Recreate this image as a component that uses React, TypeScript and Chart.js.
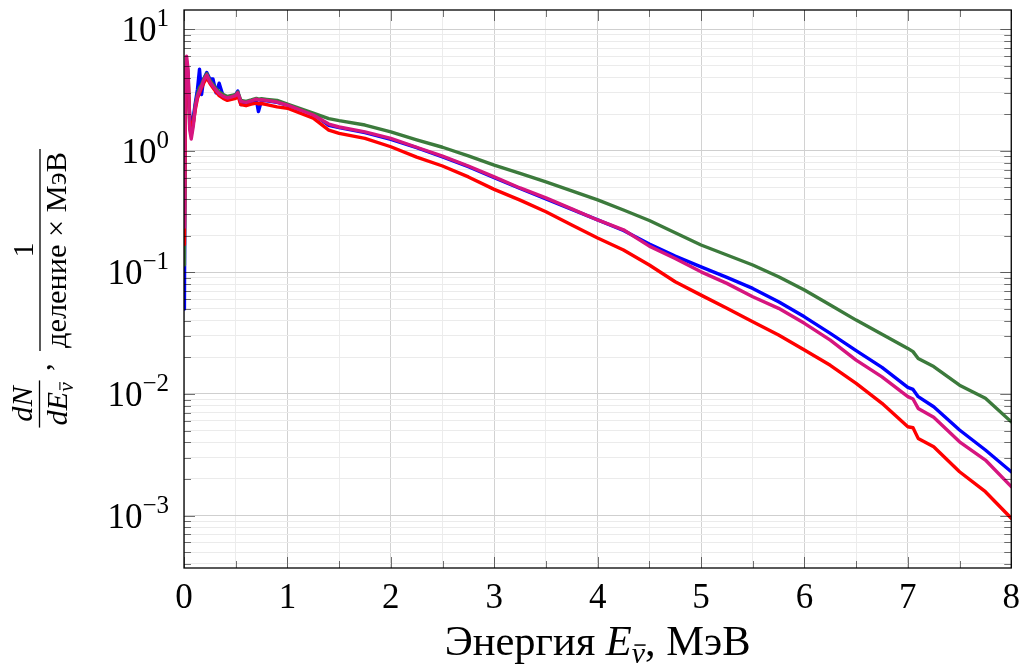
import React, { useEffect, useRef } from 'react';
import { Chart, registerables } from 'chart.js';

Chart.register(...registerables);

// ---------- data ----------
const energies = [
  0.004, 0.012, 0.025, 0.04, 0.055, 0.07, 0.09, 0.11, 0.13, 0.15,
  0.17, 0.19, 0.22, 0.25, 0.28, 0.31, 0.34, 0.38, 0.42, 0.46,
  0.5, 0.52, 0.55, 0.6, 0.65, 0.7, 0.72, 0.75, 0.8, 0.9,
  1.0, 1.25, 1.4, 1.5, 1.75, 2.0, 2.25, 2.5, 2.75, 3.0,
  3.25, 3.5, 3.75, 4.0, 4.25, 4.5, 4.75, 5.0, 5.25, 5.5,
  5.75, 6.0, 6.25, 6.5, 6.75, 7.0, 7.05, 7.1, 7.25, 7.5,
  7.75, 8.0,
];

const blueValues = [
  0.05, 2.6, 4.5, 3.0, 2.0, 1.5, 1.9, 2.5, 3.2, 4.7,
  2.9, 3.9, 4.4, 3.9, 3.9, 3.0, 3.6, 2.8, 2.75, 2.8,
  2.9, 3.1, 2.4, 2.45, 2.55, 2.6, 2.1, 2.6, 2.58, 2.5,
  2.38, 2.0, 1.62, 1.55, 1.41, 1.24, 1.06, 0.89, 0.74, 0.6,
  0.49, 0.402, 0.33, 0.27, 0.221, 0.171, 0.136, 0.111, 0.091, 0.0738,
  0.0573, 0.0431, 0.0315, 0.0227, 0.01655, 0.01133, 0.0109, 0.0095, 0.00785, 0.00505,
  0.00346, 0.00229,
];

const greenValues = [
  0.115, 3.0, 5.5, 4.3, 1.6, 1.35, 1.7, 2.4, 2.9, 3.3,
  3.5, 3.9, 4.3, 3.8, 3.5, 3.25, 3.05, 2.9, 2.8, 2.85,
  2.9, 3.05, 2.6, 2.55, 2.62, 2.7, 2.66, 2.68, 2.65, 2.6,
  2.42, 2.04, 1.84, 1.77, 1.63, 1.43, 1.23, 1.07, 0.91, 0.763,
  0.652, 0.556, 0.469, 0.395, 0.326, 0.267, 0.212, 0.168, 0.139, 0.115,
  0.092, 0.0715, 0.054, 0.0405, 0.031, 0.0237, 0.0223, 0.0196, 0.0168, 0.0118,
  0.0092, 0.0059,
];

const redValues = [
  0.17, 2.5, 5.0, 4.0, 1.8, 1.55, 1.7, 2.2, 2.7, 3.0,
  3.3, 3.6, 4.0, 3.6, 3.3, 3.05, 2.85, 2.7, 2.6, 2.65,
  2.7, 2.85, 2.4, 2.35, 2.42, 2.47, 2.43, 2.45, 2.4, 2.3,
  2.24, 1.86, 1.48, 1.39, 1.265, 1.08, 0.888, 0.75, 0.61, 0.482,
  0.393, 0.315, 0.245, 0.192, 0.1526, 0.115, 0.0837, 0.065, 0.0506, 0.0393,
  0.0305, 0.023, 0.0172, 0.0122, 0.00837, 0.00537, 0.00527, 0.00431, 0.00368, 0.00229,
  0.00157, 0.00095,
];

const magentaValues = [
  0.235, 3.5, 6.0, 4.6, 1.5, 1.25, 1.6, 2.3, 2.8, 3.1,
  3.4, 3.8, 4.2, 3.7, 3.4, 3.15, 2.95, 2.8, 2.72, 2.78,
  2.85, 3.0, 2.55, 2.5, 2.58, 2.66, 2.62, 2.63, 2.6, 2.52,
  2.38, 1.97, 1.66, 1.57, 1.43, 1.265, 1.07, 0.905, 0.75, 0.61,
  0.495, 0.41, 0.333, 0.27, 0.224, 0.1645, 0.13, 0.101, 0.0812, 0.063,
  0.0506, 0.0381, 0.0277, 0.019, 0.0138, 0.0095, 0.00908, 0.0076, 0.00642, 0.00404,
  0.00286, 0.00173,
];

const xTickValues = [0, 0.5, 1, 1.5, 2, 2.5, 3, 3.5, 4, 4.5, 5, 5.5, 6, 6.5, 7, 7.5, 8];
const xTickLabels = ['0', '1', '2', '3', '4', '5', '6', '7', '8'];
const yTickExponents = [-3, -2, -1, 0, 1];

const X_MIN = 0;
const X_MAX = 8;
const Y_MIN = 3.7e-4;
const Y_MAX = 14.4;

const xTitleParts = ['Энергия ', 'E', 'ν', ', МэВ'];
const yTitleParts = ['dN', 'dE', 'ν', ',', '1', 'деление × МэВ'];

const FONT = '"Liberation Serif", "Times New Roman", serif';

// ---------- helpers ----------
type Run = { text: string; italic?: boolean; scale?: number; dy?: number; bar?: boolean };

function runFont(r: Run, size: number) {
  return `${r.italic ? 'italic ' : ''}${(size * (r.scale ?? 1)).toFixed(2)}px ${FONT}`;
}
function measureRuns(ctx: CanvasRenderingContext2D, runs: Run[], size: number) {
  let w = 0;
  for (const r of runs) {
    ctx.font = runFont(r, size);
    w += ctx.measureText(r.text).width;
  }
  return w;
}
function drawRuns(ctx: CanvasRenderingContext2D, runs: Run[], size: number, x: number, baseline: number) {
  let cx = x;
  for (const r of runs) {
    ctx.font = runFont(r, size);
    const w = ctx.measureText(r.text).width;
    const by = baseline + (r.dy ?? 0) * size;
    ctx.fillText(r.text, cx, by);
    if (r.bar) {
      const s = size * (r.scale ?? 1);
      const yb = by - 0.62 * s;
      ctx.save();
      ctx.lineWidth = Math.max(1, s * 0.05);
      ctx.beginPath();
      ctx.moveTo(cx + 0.2 * w, yb);
      ctx.lineTo(cx + w + 0.05 * w, yb);
      ctx.stroke();
      ctx.restore();
    }
    cx += w;
  }
  return cx;
}

const isPow10 = (v: number) => Math.abs(Math.log10(v) - Math.round(Math.log10(v))) < 1e-6;

function yGridValues() {
  const out: number[] = [];
  for (let n = -4; n <= 1; n++) {
    for (let k = 1; k <= 9; k++) {
      const v = k * Math.pow(10, n);
      if (v >= Y_MIN && v <= Y_MAX) out.push(v);
    }
  }
  return out;
}

const framePlugin = {
  id: 'pgfFrame',
  afterDatasetsDraw(chart: any) {
    const { ctx, chartArea } = chart;
    const { left, right, top, bottom } = chartArea;
    const xs = chart.scales.x;
    const ys = chart.scales.y;
    ctx.save();
    ctx.strokeStyle = 'rgba(0,0,0,0.55)';
    ctx.lineWidth = 1;
    ctx.beginPath();
    for (const v of xTickValues) {
      const px = Math.round(xs.getPixelForValue(v)) + 0.5;
      const len = Number.isInteger(v) ? 11 : 7;
      ctx.moveTo(px, bottom);
      ctx.lineTo(px, bottom - len);
      ctx.moveTo(px, top);
      ctx.lineTo(px, top + len);
    }
    for (const v of yGridValues()) {
      const py = Math.round(ys.getPixelForValue(v)) + 0.5;
      const len = isPow10(v) ? 11 : 7;
      ctx.moveTo(left, py);
      ctx.lineTo(left + len, py);
      ctx.moveTo(right, py);
      ctx.lineTo(right - len, py);
    }
    ctx.stroke();
    ctx.strokeStyle = '#000';
    ctx.lineWidth = 1.3;
    ctx.strokeRect(left, top, right - left, bottom - top);
    ctx.restore();
  },
  afterDraw(chart: any) {
    const { ctx, chartArea } = chart;
    const ys = chart.scales.y;
    ctx.save();
    ctx.fillStyle = '#000';
    ctx.strokeStyle = '#000';
    ctx.textBaseline = 'alphabetic';
    ctx.textAlign = 'left';

    // y tick labels 10^n
    const base = 35;
    const sup = 25;
    for (const n of yTickExponents) {
      const py = ys.getPixelForValue(Math.pow(10, n));
      const expText = n < 0 ? '\u2212' + String(-n) : String(n);
      ctx.font = `${sup}px ${FONT}`;
      const ew = ctx.measureText(expText).width;
      ctx.font = `${base}px ${FONT}`;
      const bw = ctx.measureText('10').width;
      const xEnd = 169;
      const baseline = py + 12;
      ctx.fillText('10', xEnd - ew - bw, baseline);
      ctx.font = `${sup}px ${FONT}`;
      ctx.fillText(expText, xEnd - ew, baseline - 15);
    }

    // x title
    const xRuns: Run[] = [
      { text: xTitleParts[0] },
      { text: xTitleParts[1], italic: true },
      { text: xTitleParts[2], italic: true, scale: 0.7, dy: 0.2, bar: true },
      { text: xTitleParts[3] },
    ];
    const w1 = measureRuns(ctx, xRuns, 100);
    const xSize = (306 / w1) * 100;
    const cxMid = (chartArea.left + chartArea.right) / 2;
    drawRuns(ctx, xRuns, xSize, cxMid - 153, 655);

    // y title (rotated); local X = 672 - screenY, local Y = screenX
    ctx.translate(0, 672);
    ctx.rotate(-Math.PI / 2);
    const denRuns: Run[] = [{ text: yTitleParts[5] }];
    const dw = measureRuns(ctx, denRuns, 100);
    const ySize = (196 / dw) * 100;

    const f1c = 268;
    const numRuns: Run[] = [{ text: yTitleParts[0], italic: true }];
    const den1Runs: Run[] = [
      { text: yTitleParts[1], italic: true },
      { text: yTitleParts[2], italic: true, scale: 0.7, dy: 0.2, bar: true },
    ];
    const nw = measureRuns(ctx, numRuns, ySize);
    const d1w = measureRuns(ctx, den1Runs, ySize);
    const f1w = Math.max(nw, d1w) + 4;
    drawRuns(ctx, numRuns, ySize, f1c - nw / 2, 32);
    drawRuns(ctx, den1Runs, ySize, f1c - d1w / 2, 67);
    ctx.lineWidth = 1.3;
    ctx.beginPath();
    ctx.moveTo(f1c - f1w / 2, 39.5);
    ctx.lineTo(f1c + f1w / 2, 39.5);
    ctx.stroke();

    ctx.font = `${ySize}px ${FONT}`;
    ctx.fillText(yTitleParts[3], 301, 50);

    const f2c = 422;
    ctx.font = `${ySize}px ${FONT}`;
    const oneW = ctx.measureText(yTitleParts[4]).width;
    ctx.fillText(yTitleParts[4], f2c - oneW / 2, 33);
    drawRuns(ctx, denRuns, ySize, f2c - (dw * ySize) / 100 / 2, 66);
    ctx.beginPath();
    ctx.moveTo(f2c - 101, 40);
    ctx.lineTo(f2c + 101, 40);
    ctx.stroke();

    ctx.restore();
  },
};

function makeSeries(vals: number[]) {
  return energies.map((e, i) => ({ x: e, y: vals[i] }));
}

export default function App() {
  const canvasRef = useRef<HTMLCanvasElement | null>(null);

  useEffect(() => {
    const canvas = canvasRef.current;
    if (!canvas) return;
    const common = {
      pointRadius: 0,
      borderWidth: 3.4,
      tension: 0,
      fill: false,
      borderJoinStyle: 'round' as const,
      borderCapStyle: 'round' as const,
    };
    const chart = new Chart(canvas, {
      type: 'line',
      data: {
        datasets: [
          { label: 'magenta', data: makeSeries(magentaValues), borderColor: '#d6157f', ...common },
          { label: 'red', data: makeSeries(redValues), borderColor: '#ff0000', ...common },
          { label: 'green', data: makeSeries(greenValues), borderColor: '#3c7a3c', ...common },
          { label: 'blue', data: makeSeries(blueValues), borderColor: '#0000ff', ...common },
        ],
      },
      options: {
        animation: false,
        responsive: false,
        devicePixelRatio: 1,
        layout: { padding: { left: 0, right: 13, top: 10, bottom: 0 } },
        plugins: {
          legend: { display: false },
          tooltip: { enabled: false },
        },
        scales: {
          x: {
            type: 'linear',
            min: X_MIN,
            max: X_MAX,
            afterFit: (s: any) => {
              s.height = 104;
            },
            afterBuildTicks: (s: any) => {
              s.ticks = xTickValues.map((v) => ({ value: v }));
            },
            ticks: {
              autoSkip: false,
              maxRotation: 0,
              minRotation: 0,
              padding: 10,
              color: '#000',
              font: { family: FONT, size: 35 },
              callback: (v: any) => {
                const n = Number(v);
                return Number.isInteger(n) ? xTickLabels[n] : '';
              },
            },
            grid: {
              drawTicks: false,
              lineWidth: 1,
              color: (c: any) => (Number.isInteger(c.tick?.value) ? '#d2d2d2' : '#ececec'),
            },
            border: { display: false },
          },
          y: {
            type: 'logarithmic',
            min: Y_MIN,
            max: Y_MAX,
            afterFit: (s: any) => {
              s.width = 184;
            },
            afterBuildTicks: (s: any) => {
              s.ticks = yGridValues().map((v) => ({ value: v }));
            },
            ticks: { display: false },
            grid: {
              drawTicks: false,
              lineWidth: 1,
              color: (c: any) => (c.tick && isPow10(c.tick.value) ? '#cfcfcf' : '#ebebeb'),
            },
            border: { display: false },
          },
        },
      },
      plugins: [framePlugin],
    } as any);
    return () => chart.destroy();
  }, []);

  return (
    <div style={{ position: 'fixed', left: 0, top: 0, width: 1030, height: 672, background: '#fff' }}>
      <canvas ref={canvasRef} width={1030} height={672} style={{ display: 'block' }} />
    </div>
  );
}
